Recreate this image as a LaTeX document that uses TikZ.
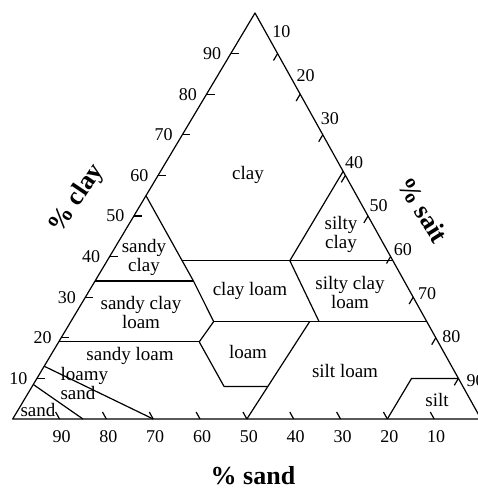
\documentclass[tikz,border=0pt]{standalone}
\usepackage{fontspec}
\setmainfont{Liberation Serif}

\tikzset{
  region/.style={font=\fontsize{19}{19}\selectfont, align=center, inner sep=0pt},
  axisnum/.style={font=\fontsize{18}{18}\selectfont, inner sep=0pt},
  axistitle/.style={font=\fontsize{26}{26}\selectfont\bfseries, inner sep=0pt},
}

\begin{document}
\begin{tikzpicture}[x=1pt, y=-1pt, line width=1.2pt, line join=round]
  \useasboundingbox (0,0) rectangle (477,489);
  % corners: 100% sand, 100% silt, 100% clay
  \coordinate (sa) at (12.7,419);
  \coordinate (si) at (481,419);
  \coordinate (cl) at (255,13);
  \draw (sa) -- (si) -- (cl) -- cycle;

  % class boundaries (sand, silt, clay as fractions)
  \coordinate (scTop)   at (barycentric cs:sa=.45,si=0,cl=.55);
  \coordinate (scLow)   at (barycentric cs:sa=.45,si=.21,cl=.34);
  \coordinate (clTopL)  at (barycentric cs:sa=.45,si=.16,cl=.39);
  \coordinate (clTopR)  at (barycentric cs:sa=0,si=.61,cl=.39);
  \coordinate (syTop)   at (barycentric cs:sa=0,si=.39,cl=.61);
  \coordinate (syLow)   at (barycentric cs:sa=.22,si=.39,cl=.39);
  \coordinate (clLowR)  at (barycentric cs:sa=.23,si=.53,cl=.24);
  \coordinate (clLowL)  at (barycentric cs:sa=.455,si=.305,cl=.24);
  \coordinate (scllR)   at (barycentric cs:sa=0,si=.76,cl=.24);
  \coordinate (sclTopL) at (barycentric cs:sa=.66,si=0,cl=.34);
  \coordinate (slTopL)  at (barycentric cs:sa=.81,si=0,cl=.19);
  \coordinate (lmUp)    at (barycentric cs:sa=.51,si=.30,cl=.19);
  \coordinate (lmDown)  at (barycentric cs:sa=.51,si=.41,cl=.08);
  \coordinate (lmLowR)  at (barycentric cs:sa=.417,si=.503,cl=.08);
  \coordinate (stlTop)  at (barycentric cs:sa=.25,si=.51,cl=.24);
  \coordinate (stlBot)  at (barycentric cs:sa=.50,si=.50,cl=0);
  \coordinate (lsL)     at (barycentric cs:sa=.87,si=0,cl=.13);
  \coordinate (lsB)     at (barycentric cs:sa=.70,si=.30,cl=0);
  \coordinate (sdL)     at (barycentric cs:sa=.915,si=0,cl=.085);
  \coordinate (sdB)     at (barycentric cs:sa=.85,si=.15,cl=0);
  \coordinate (stTop)   at (barycentric cs:sa=.10,si=.80,cl=.10);
  \coordinate (stR)     at (barycentric cs:sa=0,si=.90,cl=.10);
  \coordinate (stBot)   at (barycentric cs:sa=.20,si=.80,cl=0);

  \draw (scTop) -- (scLow) -- (clLowL) -- (lmUp) -- (lmDown) -- (lmLowR);
  \draw (clTopL) -- (clTopR);
  \draw (syTop) -- (syLow) -- (clLowR);
  \draw (clLowL) -- (scllR);
  \draw (stlTop) -- (stlBot);
  \draw (sclTopL) -- (scLow);
  \draw (slTopL) -- (lmUp);
  \draw (lsL) -- (lsB);
  \draw (sdL) -- (sdB);
  \draw (stBot) -- (stTop) -- (stR);

  % ticks and numbers
  \foreach \k [evaluate=\k as \f using \k/100, evaluate=\k as \g using 1-\k/100] in {10,20,...,90} {
    \draw (barycentric cs:sa=\g,si=0,cl=\f) -- ++(8,0);
    \draw (barycentric cs:sa=0,si=\f,cl=\g) -- ++(-4.1,6.9);
    \draw (barycentric cs:sa=\f,si=\g,cl=0) -- ++(-3.9,-7);
    \node[axisnum, anchor=east, xshift=-9pt] at (barycentric cs:sa=\g,si=0,cl=\f) {\k};
    \node[axisnum, xshift={2+0.17*\k}, yshift={25-0.3*\k}] at (barycentric cs:sa=0,si=\f,cl=\g) {\k};
    \node[axisnum, anchor=north, xshift=2pt, yshift=-11pt] at (barycentric cs:sa=\f,si=\g,cl=0) {\k};
  }

  % texture classes
  \node[region] (clay) at (248,175) {clay};
  \node[region] (siltyclay) at (341,234) {silty\\clay};
  \node[region] (sandyclay) at (144,257) {sandy\\clay};
  \node[region] (clayloam) at (250,291) {clay loam};
  \node[region] (siltyclayloam) at (350,292) {silty clay\\loam};
  \node[region] (sandyclayloam) at (141,312) {sandy clay\\loam};
  \node[region] (loam) at (248,352) {loam};
  \node[region] (sandyloam) at (130,356) {sandy loam};
  \node[region] (siltloam) at (345,371) {silt loam};
  \node[region, align=left, anchor=west] (loamysand) at (60,383) {loamy\\sand};
  \node[region] (sand) at (38,410) {sand};
  \node[region] (silt) at (437,400) {silt};

  % axis titles
  \node[axistitle, rotate=56] (clayaxis) at (77,199) {\% clay};
  \node[axistitle, rotate=-58] (siltaxis) at (423,210) {\% sait};
  \node[axistitle] (sandaxis) at (253,475.5) {\% sand};
\end{tikzpicture}
\end{document}
